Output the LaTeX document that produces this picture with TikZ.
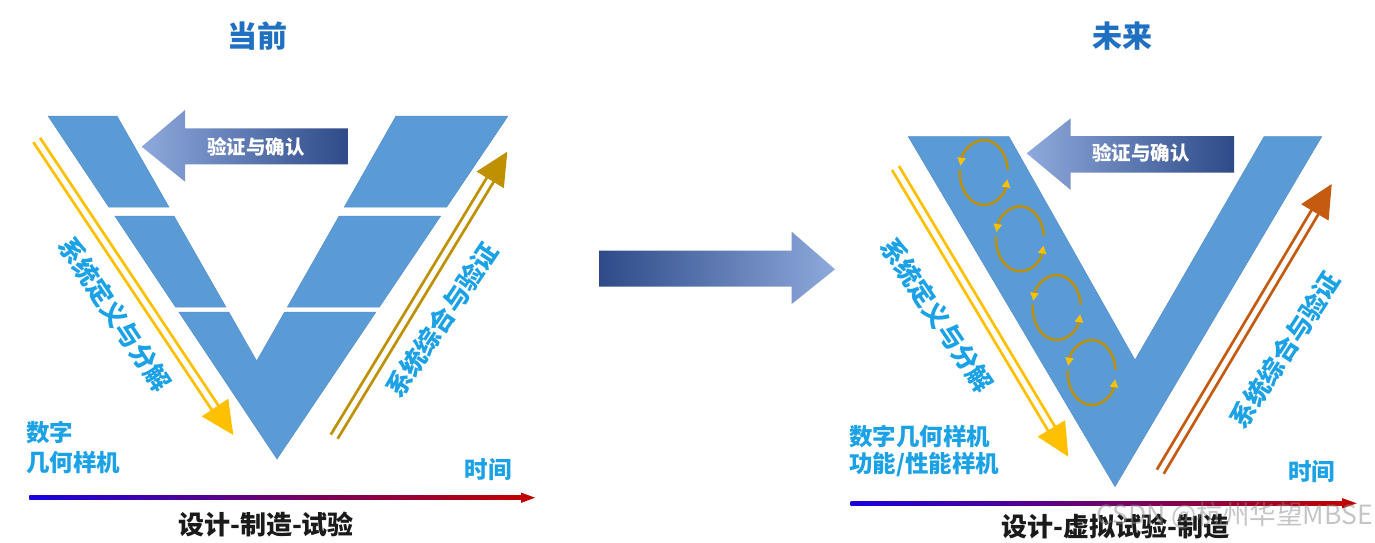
\documentclass[tikz,border=0pt]{standalone}
\usepackage{fontspec}
\usetikzlibrary{arrows.meta,calc}
\newfontfamily\cjk{Noto Sans CJK SC}
\definecolor{vblue}{HTML}{5B9BD5}
\definecolor{vedge}{HTML}{5590CB}
\definecolor{titleblue}{HTML}{1F70C1}
\definecolor{lblue}{HTML}{1AA1E6}
\definecolor{goldA}{HTML}{FFC000}
\definecolor{goldB}{HTML}{BF9000}
\definecolor{orangeC}{HTML}{C55A11}
\definecolor{axblue}{HTML}{1800E0}
\definecolor{axpurple}{HTML}{700098}
\definecolor{axred}{HTML}{C00000}
\definecolor{grlight}{HTML}{8EA9DB}
\definecolor{grmid}{HTML}{4472C4}
\definecolor{grdark}{HTML}{2E4A88}
\definecolor{txtdark}{HTML}{1A1A1A}
\newcommand\dblarr[4]{%
  \begin{scope}[shift={#1}, rotate=#2]
    \draw[#4, line width=2.7pt] (0,-4) -- (#3-30,-4) (0,4) -- (#3-30,4);
    \fill[#4] (#3-33,-16) -- (#3,0) -- (#3-33,16) -- cycle;
  \end{scope}}
\tikzset{
  vpiece/.style={fill=vblue, draw=vedge, line width=0.5pt},
  title/.style={font=\cjk\bfseries\fontsize{30}{32}\selectfont, text=titleblue, inner sep=0},
  lbl/.style={font=\cjk\bfseries\fontsize{23.5}{25}\selectfont, text=lblue, inner sep=0},
  rlbl/.style={font=\cjk\bfseries\fontsize{25.5}{27}\selectfont, text=lblue, inner sep=0},
  btxt/.style={font=\cjk\bfseries\fontsize{26}{28}\selectfont, text=txtdark, inner sep=0},
  vtxt/.style={font=\cjk\bfseries\fontsize{19.5}{21}\selectfont, text=white, inner sep=0},
  loopc/.style={draw=goldB, line width=2.4pt, -{Triangle[color=goldA,length=8pt,width=8pt]}},
}
\begin{document}
\begin{tikzpicture}[x=1pt,y=-1pt]
\useasboundingbox (0,0) rectangle (1375,543);

% ---------- titles ----------
\node[title] (t1) at (257,36) {当前};
\node[title] (t2) at (1122,36) {未来};

% ---------- left V (segmented) ----------
\fill[vpiece] (48,116) -- (117,116) -- (168.9,207) -- (108.8,207) -- cycle;
\fill[vpiece] (396,116) -- (508,116) -- (446.7,207) -- (344.3,207) -- cycle;
\fill[vpiece] (114.8,216) -- (174,216) -- (225.9,307) -- (175.5,307) -- cycle;
\fill[vpiece] (339.1,216) -- (440.7,216) -- (379.4,307) -- (287.4,307) -- cycle;
\fill[vpiece] (178.8,312) -- (228.8,312) -- (256.7,361) -- (284.6,312) -- (376,312) -- (277,459) -- cycle;

% verification arrow (left)
\shade[left color=grlight, right color=grdark]
  (141.7,146.7) -- (185,110) -- (185,128.3) -- (348.3,128.3) -- (348.3,164.3) -- (185,164.3) -- (185,181.7) -- cycle;
\node[vtxt] (vv1) at (256,146.7) {验证与确认};

% double arrows (left)
\dblarr{(36.7,140)}{-56.32}{354.5}{goldA}
\dblarr{(334.2,436.7)}{58.73}{333.5}{goldB}

\node[rlbl, rotate=-56.3] (d1) at (115,314) {系统定义与分解};
\node[rlbl, rotate=56.2] (s1) at (442,320) {系统综合与验证};

\node[lbl, anchor=west] (n1a) at (26,433) {数字};
\node[lbl, anchor=west] (n1b) at (26,463) {几何样机};
\node[lbl] (time1) at (488,470) {时间};

% time axis left
\shade[left color=axblue, middle color=axpurple, right color=axred] (29.3,495.7) rectangle (522,499.7);
\fill[axred] (521,492.5) -- (535,497.7) -- (521,502.9) -- cycle;
\node[btxt] (b1) at (266,524) {设计-制造-试验};

% ---------- middle arrow ----------
\shade[left color=grdark, middle color=grmid, right color=grlight]
  (599,250.7) -- (791.7,250.7) -- (791.7,231.7) -- (835,269.3) -- (791.7,304) -- (791.7,286.7) -- (599,286.7) -- cycle;

% ---------- right V ----------
\fill[vpiece] (908.3,136.7) -- (1009,136.7) -- (1135,360) -- (1264,136.7) -- (1321.7,136.7) -- (1115,486.7) -- cycle;

\shade[left color=grlight, right color=grdark]
  (1026.7,153.3) -- (1070.7,118.3) -- (1070.7,136) -- (1234,136) -- (1234,172.7) -- (1070.7,172.7) -- (1070.7,190) -- cycle;
\node[vtxt] (vv2) at (1141,153.3) {验证与确认};

% iteration loops
\foreach \cx/\cy [count=\i] in {983.8/172.5, 1020/238.8, 1056.7/307.5, 1091.7/372.5}{
  \coordinate (lc\i) at (\cx,\cy);
  \draw[loopc] ($(lc\i)+(-5:24 and 32.5)$) arc[start angle=-5, end angle=-168, x radius=24, y radius=32.5];
  \draw[loopc] ($(lc\i)+(185:24 and 32.5)$) arc[start angle=185, end angle=12, x radius=24, y radius=32.5];
}

\dblarr{(895.5,168)}{-59.1}{336.5}{goldA}
\dblarr{(1160.3,471.7)}{59.21}{334.9}{orangeC}

\node[rlbl, rotate=-56] (d2) at (937,315) {系统定义与分解};
\node[rlbl, rotate=57] (s2) at (1285,350) {系统综合与验证};

\node[lbl, anchor=west] (n2a) at (849,436.7) {数字几何样机};
\node[lbl, anchor=west] (n2b) at (849,465) {功能/性能样机};
\node[lbl] (time2) at (1311.7,471.7) {时间};

\shade[left color=axblue, middle color=axpurple, right color=axred] (850.7,501.3) rectangle (1343,505.3);
\fill[axred] (1342,498.1) -- (1356.7,503.3) -- (1342,508.5) -- cycle;
\node[btxt] (b2) at (1115.5,526.5) {设计-虚拟试验-制造};

% watermark
\node[font=\cjk\fontsize{26.5}{28}\selectfont, text=black!45, text opacity=0.5, anchor=east, inner sep=0] (wm) at (1373,516) {CSDN @杭州华望MBSE};
\end{tikzpicture}
\end{document}
